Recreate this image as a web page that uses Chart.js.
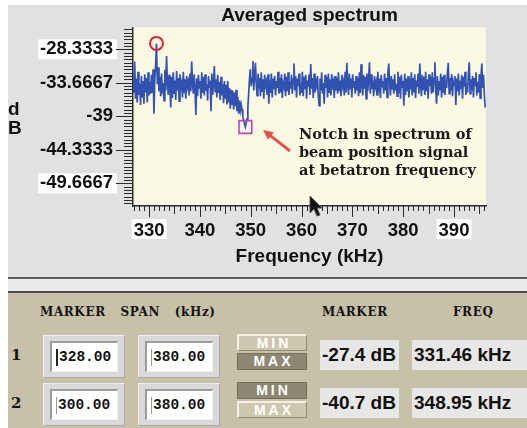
<!DOCTYPE html>
<html>
<head>
<meta charset="utf-8">
<script src="https://cdn.jsdelivr.net/npm/chart.js@4.4.0/dist/chart.umd.min.js"></script>
<style>
  body { margin: 0; width: 527px; height: 428px; overflow: hidden; position: relative; background: #fff;
         font-family: "Liberation Sans", Arial, sans-serif; }
  #plotBox { position: absolute; left: 8px; top: 5px; width: 519px; height: 272px; background: #e1e1e1; }
  #strip { position: absolute; left: 8px; top: 277px; width: 519px; height: 16px; box-sizing: border-box;
           background: #ebebeb; border-top: 2px solid #5c5c5c; border-bottom: 2px solid #4a4a4a; }
  #panel { position: absolute; left: 8px; top: 293px; width: 519px; height: 135px; background: #c7c1a7; }
  .abs { position: absolute; }
  .hdr { font: bold 12px "DejaVu Serif", serif; letter-spacing: 0.6px; word-spacing: 10px; color: #141414; }
  .rowNum { font: bold 15px "DejaVu Serif", serif; color: #141414; }
  .frame { background: #d9d9d9; box-sizing: border-box; border: 1px solid; border-color: #efefef #a9a9a9 #a9a9a9 #efefef; }
  .field { background: #fff; box-sizing: border-box; border-style: solid; border-width: 2px 1px 1px 2px;
           border-color: #9c9c9c #f2f2f2 #f2f2f2 #9c9c9c; font: bold 14.5px "Liberation Mono", monospace;
           color: #111; display: flex; align-items: center; padding-left: 4px; }
  .caret { display: inline-block; width: 1px; height: 17px; margin-right: 1px; background: #999; }
  .caret.on { background: #222; width: 2px; }
  .btn { box-sizing: border-box; width: 70px; height: 17px; font: bold 14px "Liberation Sans", sans-serif;
         letter-spacing: 3px; padding-left: 3px; color: #fff; text-align: center; line-height: 15px; }
  .btn.up { background: #cdc7ad; border-style: solid; border-width: 2px 1px 1px 2px; border-color: #f4f1e4 #8d8972 #8d8972 #f4f1e4; }
  .btn.down { background: #8c8872; border: 1px solid #716d59; }
  .readout { background: #e7e7e5; height: 30px; font: bold 19px "Liberation Sans", sans-serif; color: #111;
             line-height: 30px; white-space: nowrap; overflow: hidden; padding-left: 2px; box-sizing: border-box; }
</style>
</head>
<body>
<div id="plotBox"><canvas id="spectrumChart"></canvas></div>
<div id="strip"></div>
<div id="panel"></div>
<svg class="abs" style="left:309px;top:195px" width="16" height="24" viewBox="0 0 16 24">
  <path d="M1 1 L1 18 L5 14 L8 21 L11 20 L8 13 L13 13 Z" fill="#111" stroke="#555" stroke-width="1"/>
</svg>
<script>
// spectrum bins: first bin and bin width in kHz
const FREQ_START = 326.84;
const FREQ_STEP = 0.165;

// averaged spectrum, dB per bin
const SPECTRUM_DB = [
  -32.2, -35.3, -30.3, -36.2, -33.0, -36.8, -31.9, -35.6, -33.8, -37.2,
  -32.6, -36.0, -33.4, -37.0, -32.3, -35.2, -32.9, -36.8, -32.0, -35.7,
  -33.5, -35.4, -32.4, -35.3, -31.5, -38.6, -33.0, -30.8, -27.4, -33.9,
  -31.2, -35.0, -32.7, -35.8, -32.2, -34.6, -33.7, -36.5, -31.6, -34.9,
  -29.4, -33.4, -35.6, -32.4, -34.3, -37.6, -32.7, -36.1, -32.0, -35.3,
  -33.3, -36.4, -31.8, -34.9, -32.9, -36.6, -32.3, -34.5, -33.8, -36.0,
  -31.9, -35.2, -33.1, -36.2, -32.6, -34.2, -33.5, -35.7, -32.2, -35.0,
  -30.3, -33.8, -35.4, -32.3, -34.7, -38.8, -33.0, -35.8, -32.4, -34.6,
  -33.4, -36.2, -32.0, -35.3, -32.7, -35.7, -32.3, -34.9, -33.9, -36.5,
  -32.6, -34.5, -33.3, -38.2, -32.2, -35.6, -33.7, -31.0, -35.2, -33.1,
  -36.0, -32.4, -35.3, -33.5, -36.4, -32.7, -35.7, -33.9, -36.9, -33.4,
  -36.2, -34.0, -37.1, -33.4, -36.8, -34.5, -37.8, -34.8, -37.2, -35.0,
  -37.9, -35.2, -37.4, -34.8, -38.2, -35.9, -38.6, -36.5, -38.0, -37.1,
  -37.9, -39.0, -39.7, -40.2, -40.7, -40.1, -39.4, -37.6, -35.2, -32.9,
  -31.5, -34.2, -33.0, -30.2, -34.9, -32.4, -30.5, -33.9, -35.7, -32.2,
  -34.6, -32.9, -35.8, -32.0, -35.0, -33.1, -36.2, -32.4, -34.1, -33.5,
  -35.6, -32.3, -37.0, -33.3, -35.3, -32.2, -36.0, -33.0, -34.7, -32.6,
  -35.7, -33.4, -34.5, -31.9, -35.4, -32.9, -35.2, -32.3, -36.1, -33.8,
  -34.3, -32.2, -35.8, -32.7, -35.0, -32.0, -35.6, -33.5, -34.6, -32.4,
  -35.4, -33.1, -30.6, -34.9, -32.6, -36.0, -33.0, -34.2, -32.2, -35.7,
  -33.7, -35.3, -31.9, -35.8, -32.7, -34.7, -32.4, -36.2, -33.3, -34.3,
  -32.3, -35.6, -30.7, -34.6, -32.9, -36.1, -32.2, -35.2, -33.4, -34.1,
  -32.6, -35.8, -37.3, -33.0, -34.9, -32.0, -35.4, -33.7, -37.0, -32.4,
  -34.5, -32.7, -36.0, -32.2, -35.3, -33.1, -35.7, -32.3, -34.1, -33.5,
  -36.1, -32.6, -34.9, -32.9, -35.4, -32.0, -35.0, -33.3, -35.8, -32.4,
  -34.2, -33.5, -35.7, -31.9, -35.2, -30.5, -33.9, -35.6, -32.2, -34.7,
  -33.0, -36.0, -32.3, -34.5, -33.4, -35.4, -32.6, -34.9, -32.9, -35.8,
  -32.0, -35.3, -30.7, -33.8, -35.7, -32.4, -34.6, -32.7, -36.2, -32.2,
  -35.0, -33.1, -30.4, -35.4, -32.3, -34.7, -33.3, -35.8, -32.6, -34.2,
  -33.5, -35.6, -31.9, -35.2, -33.0, -36.1, -32.4, -34.3, -33.4, -35.4,
  -32.2, -34.9, -32.9, -36.0, -32.0, -30.6, -33.7, -35.7, -32.6, -34.6,
  -33.1, -35.4, -32.3, -34.9, -33.8, -35.8, -31.9, -35.3, -32.7, -36.2,
  -32.4, -34.5, -33.4, -37.3, -32.2, -35.6, -33.0, -35.0, -32.6, -36.0,
  -33.5, -34.1, -32.0, -35.7, -32.9, -35.2, -32.3, -36.1, -33.3, -34.3,
  -32.2, -35.4, -30.6, -33.8, -35.8, -32.4, -34.7, -32.7, -35.6, -31.9,
  -35.0, -33.1, -36.2, -32.3, -34.2, -33.5, -35.4, -32.0, -35.2, -33.0,
  -30.4, -34.6, -37.0, -32.6, -35.7, -33.4, -34.9, -32.2, -36.0, -32.7,
  -35.3, -32.4, -35.6, -33.3, -34.5, -32.0, -30.5, -35.4, -32.9, -34.9,
  -32.3, -35.8, -33.5, -34.1, -32.6, -37.2, -33.0, -35.0, -32.2, -35.7,
  -33.3, -34.7, -32.4, -36.2, -32.7, -34.3, -31.9, -35.6, -33.7, -35.2,
  -32.2, -30.4, -35.4, -33.1, -34.9, -32.6, -36.0, -32.9, -34.1, -32.0,
  -35.7, -33.5, -35.2, -32.3, -36.1, -32.7, -30.6, -34.5, -32.4, -35.6,
  -37.6
];

const X_TICKS = [330, 340, 350, 360, 370, 380, 390];
const Y_TICKS = [-28.3333, -33.6667, -39, -44.3333, -49.6667];
const Y_TICK_LABELS = ['-28.3333', '-33.6667', '-39', '-44.3333', '-49.6667'];

// marker 1 = max search, marker 2 = min search
const MARKER_FREQ = [331.46, 348.95];
const MARKER_DB = [-27.4, -40.7];
const SPAN_LO = ['328.00', '300.00'];
const SPAN_HI = ['380.00', '380.00'];
const MARKER_MODE = ['MAX', 'MIN'];

const NOTE_LINES = ['Notch in spectrum of', 'beam position signal', 'at betatron frequency'];
const NOTE_AT = { x: 359.5, y: -41.98 };
const ARROW_FROM = { x: 357.74, y: -44.52 };
const ARROW_TO = { x: 352.43, y: -41.18 };

const tickFont = { family: '"Liberation Sans", Arial, sans-serif', size: 18.5, weight: 'bold' };
const Y_LABEL_PAD = 20;
const X_LABEL_PAD = 14;

const axisDecor = {
  id: 'axisDecor',
  beforeDraw(chart) {
    const { ctx, chartArea: a, scales: { x, y } } = chart;
    ctx.save();
    ctx.fillStyle = '#fcf9e3';
    ctx.fillRect(a.left, a.top, a.right - a.left, a.bottom - a.top);
    // white boxes behind the end labels of both axes
    ctx.fillStyle = '#ffffff';
    ctx.font = `bold ${tickFont.size}px ${tickFont.family}`;
    [0, Y_TICKS.length - 1].forEach(i => {
      const w = ctx.measureText(Y_TICK_LABELS[i]).width;
      const py = y.getPixelForValue(Y_TICKS[i]);
      ctx.fillRect(a.left - Y_LABEL_PAD - w - 2, py - 10, w + 6, 20);
    });
    [0, X_TICKS.length - 1].forEach(i => {
      const w = ctx.measureText(String(X_TICKS[i])).width;
      const px = x.getPixelForValue(X_TICKS[i]);
      ctx.fillRect(px - w / 2 - 2, a.bottom + 13, w + 4, 20);
    });
    ctx.restore();
  },
  afterDatasetsDraw(chart) {
    const { ctx, scales: { x, y } } = chart;
    ctx.save();
    // arrow pointing at the notch
    const x0 = x.getPixelForValue(ARROW_FROM.x), y0 = y.getPixelForValue(ARROW_FROM.y);
    const x1 = x.getPixelForValue(ARROW_TO.x), y1 = y.getPixelForValue(ARROW_TO.y);
    const ang = Math.atan2(y1 - y0, x1 - x0);
    ctx.strokeStyle = ctx.fillStyle = '#e0544c';
    ctx.lineWidth = 3;
    ctx.beginPath();
    ctx.moveTo(x0, y0);
    ctx.lineTo(x1 - 8 * Math.cos(ang), y1 - 8 * Math.sin(ang));
    ctx.stroke();
    ctx.beginPath();
    ctx.moveTo(x1, y1);
    ctx.lineTo(x1 - 11 * Math.cos(ang - 0.45), y1 - 11 * Math.sin(ang - 0.45));
    ctx.lineTo(x1 - 11 * Math.cos(ang + 0.45), y1 - 11 * Math.sin(ang + 0.45));
    ctx.closePath();
    ctx.fill();
    // note text
    ctx.fillStyle = '#1a1a1a';
    ctx.font = 'bold 14.5px "DejaVu Serif", serif';
    ctx.textAlign = 'left';
    ctx.textBaseline = 'middle';
    const nx = x.getPixelForValue(NOTE_AT.x), ny = y.getPixelForValue(NOTE_AT.y);
    NOTE_LINES.forEach((line, i) => ctx.fillText(line, nx, ny + i * 18));
    ctx.restore();
  },
  afterDraw(chart) {
    const { ctx, chartArea: a, scales: { x, y } } = chart;
    ctx.save();
    ctx.strokeStyle = '#2b2b2b';
    ctx.lineWidth = 1;
    ctx.beginPath();
    // y ticks: ten minor steps per labelled step
    const yStep = (Y_TICKS[0] - Y_TICKS[1]) / 10;
    for (let k = -20; k <= 60; k++) {
      const v = Y_TICKS[0] - k * yStep;
      if (v > y.max || v < y.min) continue;
      const py = Math.round(y.getPixelForValue(v)) + 0.5;
      const len = k % 10 === 0 ? 17 : 9;
      ctx.moveTo(a.left - len, py);
      ctx.lineTo(a.left, py);
    }
    // x ticks every kHz
    for (let f = Math.ceil(x.min); f <= x.max; f++) {
      const px = Math.round(x.getPixelForValue(f)) + 0.5;
      const len = f % 10 === 0 ? 11 : (f % 5 === 0 ? 8 : 5);
      ctx.moveTo(px, a.bottom);
      ctx.lineTo(px, a.bottom + len);
    }
    ctx.stroke();
    // stacked "dB" axis title
    ctx.fillStyle = '#111';
    ctx.font = 'bold 19px "Liberation Sans", Arial, sans-serif';
    ctx.textAlign = 'left';
    ctx.textBaseline = 'middle';
    const mid = y.getPixelForValue(Y_TICKS[2]);
    ctx.fillText('d', 0, mid - 7);
    ctx.fillText('B', 0, mid + 12);
    ctx.restore();
  }
};

const spectrumPoints = SPECTRUM_DB.map((db, i) => ({ x: FREQ_START + i * FREQ_STEP, y: db }));

new Chart(document.getElementById('spectrumChart'), {
  type: 'line',
  data: {
    datasets: [
      {
        data: [{ x: MARKER_FREQ[0], y: MARKER_DB[0] }],
        showLine: false,
        pointStyle: 'circle',
        pointRadius: 6.5,
        pointBorderWidth: 2,
        pointBorderColor: '#e4202a',
        pointBackgroundColor: 'rgba(0,0,0,0)',
        order: 0
      },
      {
        data: [{ x: MARKER_FREQ[1], y: MARKER_DB[1] }],
        showLine: false,
        pointStyle: 'rect',
        pointRadius: 9,
        pointBorderWidth: 1.6,
        pointBorderColor: '#b545b8',
        pointBackgroundColor: 'rgba(0,0,0,0)',
        order: 0
      },
      {
        data: spectrumPoints,
        borderColor: '#3252b2',
        borderWidth: 1.7,
        pointRadius: 0,
        tension: 0,
        order: 1
      }
    ]
  },
  options: {
    responsive: true,
    maintainAspectRatio: false,
    animation: false,
    events: [],
    layout: { padding: { left: 0, right: 41, top: 0, bottom: 9 } },
    plugins: {
      legend: { display: false },
      tooltip: { enabled: false },
      title: {
        display: true,
        text: 'Averaged spectrum',
        fullSize: false,
        color: '#111',
        font: { family: '"Liberation Sans", Arial, sans-serif', size: 19, weight: 'bold', lineHeight: 1.1 },
        padding: { top: 0, bottom: 1.5 }
      }
    },
    scales: {
      x: {
        type: 'linear',
        min: 326.84,
        max: 396.3,
        afterBuildTicks: s => { s.ticks = X_TICKS.map(v => ({ value: v })); },
        afterFit: s => { s.height = 62; s.paddingLeft = 0; s.paddingRight = 0; },
        grid: { display: false, drawTicks: false },
        border: { display: true, color: '#2b2b2b', width: 1.5 },
        ticks: {
          autoSkip: false,
          maxRotation: 0,
          padding: X_LABEL_PAD,
          color: '#111',
          font: tickFont,
          callback: (v, i) => String(X_TICKS[i])
        },
        title: {
          display: true,
          text: 'Frequency (kHz)',
          color: '#111',
          font: { family: '"Liberation Sans", Arial, sans-serif', size: 19, weight: 'bold' },
          padding: { top: 0, bottom: 0 }
        }
      },
      y: {
        min: -53.28,
        max: -24.85,
        afterBuildTicks: s => { s.ticks = Y_TICKS.map(v => ({ value: v })); },
        afterFit: s => { s.width = 125; s.paddingTop = 0; s.paddingBottom = 0; },
        grid: { display: false, drawTicks: false },
        border: { display: true, color: '#2b2b2b', width: 1.5 },
        ticks: {
          autoSkip: false,
          padding: Y_LABEL_PAD,
          color: '#111',
          font: tickFont,
          callback: (v, i) => Y_TICK_LABELS[i]
        }
      }
    }
  },
  plugins: [axisDecor]
});

// marker control panel below the plot
function el(cls, style, html) {
  const d = document.createElement('div');
  d.className = 'abs ' + cls;
  Object.assign(d.style, style);
  if (html !== undefined) d.innerHTML = html;
  document.body.appendChild(d);
  return d;
}

el('hdr', { left: '40px', top: '305px' }, 'MARKER SPAN (kHz)');
el('hdr', { left: '322px', top: '305px' }, 'MARKER');
el('hdr', { left: '453px', top: '305px' }, 'FREQ');

MARKER_FREQ.forEach((freq, r) => {
  const top = 335 + r * 48;
  el('rowNum', { left: '11px', top: (top + 11) + 'px' }, String(r + 1));
  [SPAN_LO[r], SPAN_HI[r]].forEach((val, c) => {
    const left = 43 + c * 95;
    el('frame', { left: left + 'px', top: top + 'px', width: '82px', height: '43px' });
    el('field', { left: (left + 7) + 'px', top: (top + 6) + 'px', width: '68px', height: '31px' },
       '<span class="caret' + (r === 0 && c === 0 ? ' on' : '') + '"></span>' + val);
  });
  el('btn ' + (MARKER_MODE[r] === 'MIN' ? 'down' : 'up'), { left: '237px', top: (top - 1) + 'px' }, 'MIN');
  el('btn ' + (MARKER_MODE[r] === 'MAX' ? 'down' : 'up'), { left: '237px', top: (top + 18) + 'px' }, 'MAX');
  el('readout', { left: '320px', top: (top + 5) + 'px', width: '79px' }, MARKER_DB[r].toFixed(1) + ' dB');
  el('readout', { left: '412px', top: (top + 5) + 'px', width: '115px' }, freq.toFixed(2) + ' kHz');
});
</script>
</body>
</html>
